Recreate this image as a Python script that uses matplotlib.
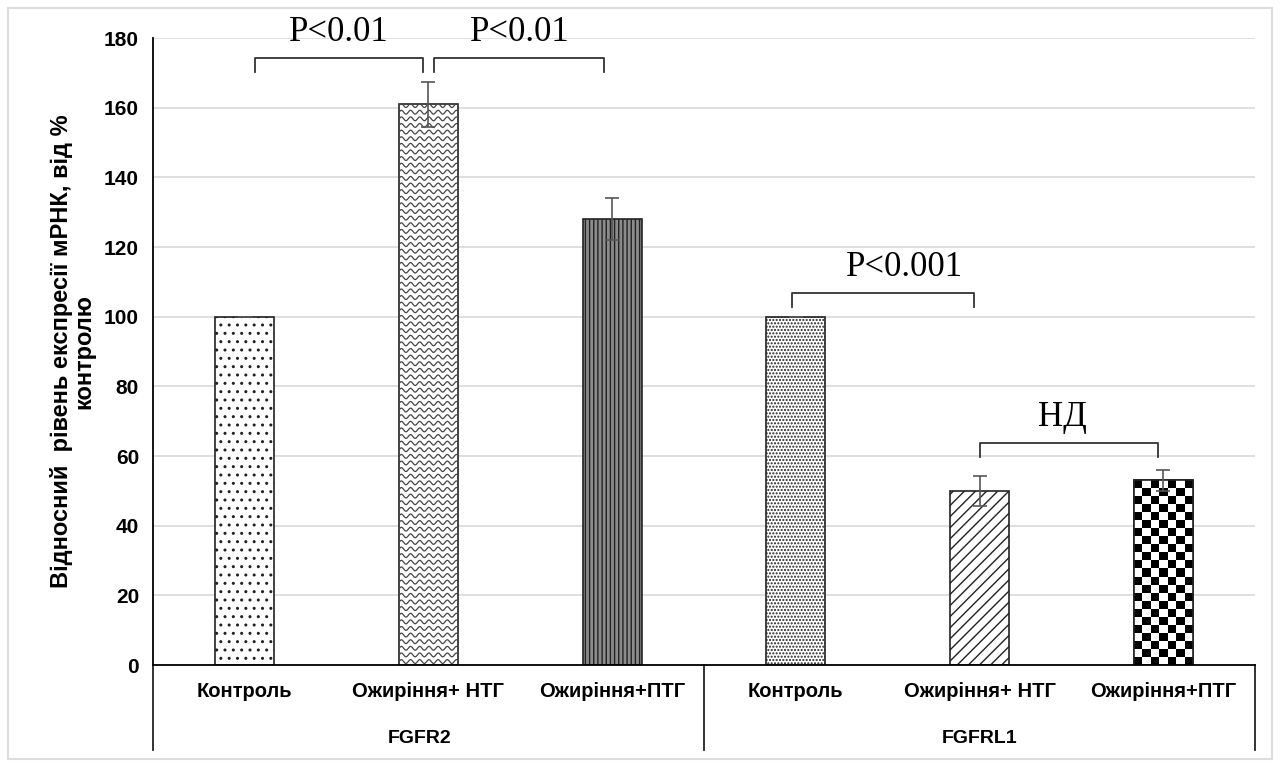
import matplotlib.pyplot as plt
import matplotlib.patches as mpatches
import numpy as np

plt.rcParams['font.family'] = ['Liberation Sans Narrow', 'Liberation Sans', 'DejaVu Sans']

# дані
categories = ['Контроль', 'Ожиріння+ НТГ', 'Ожиріння+ПТГ',
              'Контроль', 'Ожиріння+ НТГ', 'Ожиріння+ПТГ']
groups = ['FGFR2', 'FGFRL1']
values = [100, 161, 128, 100, 50, 53]
errors = [0, 6.5, 6, 0, 4.3, 3]
hatches = ['..', '', '||||', '.....', '///', '']
facecolors = ['white', 'white', '#8c8c8c', 'white', 'white', 'white']

# дужки значущості: (від, до, висота, підпис, положення підпису)
brackets = [(0.055, 0.97, 174.3, 'P<0.01', 0.51),
            (1.03, 1.955, 174.3, 'P<0.01', 1.5),
            (2.98, 3.97, 106.8, 'P<0.001', 3.59),
            (4.0, 4.97, 63.7, 'НД', 4.45)]

fig = plt.figure(figsize=(12.8, 7.65), dpi=100)
ax = fig.add_axes([0.1195, 0.1307, 0.861, 0.8196])

x = np.arange(len(values))
bars = ax.bar(x, values, width=0.32, color=facecolors, edgecolor='#222222',
              linewidth=1.2, hatch=hatches, zorder=3)
ax.errorbar(x, values, yerr=errors, fmt='none',
            ecolor='#555555', elinewidth=1.2, capsize=5, capthick=1.2, zorder=6)

# хвиляста штриховка (Ожиріння+ НТГ, FGFR2)
b = bars[1]
xs = np.linspace(b.get_x(), b.get_x() + b.get_width(), 200)
wave = 0.55 * np.sin(2 * np.pi * (xs - b.get_x()) / 0.05)
for y0 in np.arange(1, b.get_height(), 1.9):
    ln, = ax.plot(xs, y0 + wave, color='#444444', linewidth=0.9, zorder=4)
    ln.set_clip_path(b)

# шахова штриховка (Ожиріння+ПТГ, FGFRL1)
b = bars[5]
nrow = int(round(b.get_height() / 2.3))
checker = (np.add.outer(np.arange(nrow), np.arange(7)) % 2).astype(float)
im = ax.imshow(checker, cmap='gray', extent=(b.get_x(), b.get_x() + b.get_width(), 0, b.get_height()),
               aspect='auto', interpolation='nearest', zorder=4, origin='lower')
im.set_clip_path(b)
ax.bar(x[5], values[5], width=0.32, fill=False, edgecolor='#222222', linewidth=1.2, zorder=5)

ax.set_xlim(-0.5, 5.5)
ax.set_ylim(0, 180)
ax.set_yticks(np.arange(0, 181, 20))
ax.yaxis.grid(True, color='#d9d9d9', linewidth=1.2, zorder=0)
ax.set_axisbelow(True)
for s in ['top', 'right']:
    ax.spines[s].set_visible(False)
ax.spines['left'].set_linewidth(1.3)
ax.spines['bottom'].set_linewidth(1.3)
ax.spines['bottom'].set_zorder(7)
ax.tick_params(axis='y', length=0, pad=10)
for lbl in ax.get_yticklabels():
    lbl.set_fontweight('bold')
    lbl.set_fontsize(15)
    lbl.set_family(['Liberation Sans', 'DejaVu Sans'])

ax.set_xticks(x)
ax.set_xticklabels(categories, fontsize=14.5, fontweight='bold')
ax.tick_params(axis='x', length=0, pad=12)

# групові підписи та роздільники
for i, g in enumerate(groups):
    ax.text(1 + 3 * i - 0.05 * (1 - i), -0.118, g, transform=ax.get_xaxis_transform(),
            ha='center', va='center', fontsize=14, fontweight='bold')
for xv in [0.0, 0.5, 1.0]:
    ax.plot([xv, xv], [0, -0.136], transform=ax.transAxes, color='#222222',
            linewidth=1.3, clip_on=False)

ax.set_ylabel('Відносний  рівень експресії мРНК, від %\nконтролю',
              fontsize=17, fontweight='bold', family=['Liberation Sans', 'DejaVu Sans'],
              labelpad=6, linespacing=1.0)

for x0, x1, h, txt, xt in brackets:
    ax.plot([x0, x0, x1, x1], [h - 4, h, h, h - 4], color='#333333',
            linewidth=1.3, zorder=5, clip_on=False)
    ax.text(xt, h + 2.5, txt, ha='center', va='bottom',
            fontsize=25, family=['Liberation Serif', 'DejaVu Serif'], clip_on=False)

# зовнішня рамка
fig.patches.append(mpatches.Rectangle((0.006, 0.008), 0.988, 0.982, transform=fig.transFigure,
                                      fill=False, edgecolor='#dddddd', linewidth=1.5))

fig.savefig('out.png', dpi=100)
